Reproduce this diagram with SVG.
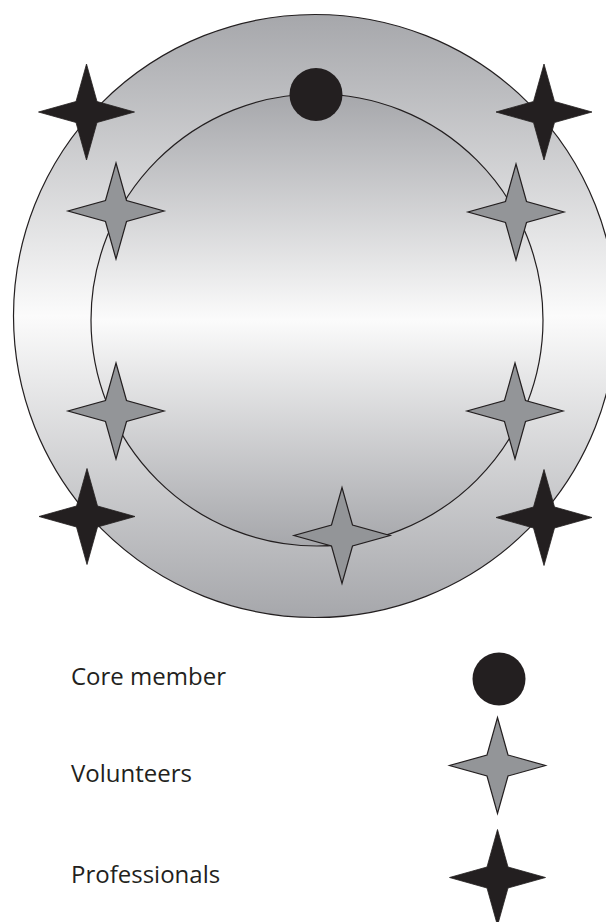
<svg xmlns="http://www.w3.org/2000/svg" xmlns:xlink="http://www.w3.org/1999/xlink" width="606" height="922" viewBox="0 0 606 922">
  <style>
    .ring { stroke: #231f20; stroke-width: 1.2; }
    .core { fill: #231f20; }
    .vol { fill: #939598; stroke: #231f20; stroke-width: 1.2; stroke-linejoin: miter; }
    .pro { fill: #231f20; stroke: #231f20; stroke-width: 0.8; }
    .label { font-family: "Open Sans", "Noto Sans", "Liberation Sans", sans-serif; font-size: 24px; fill: #231f20; }
  </style>
  <defs>
    <linearGradient id="grad" x1="0" y1="0" x2="0" y2="1">
      <stop offset="0" stop-color="#a6a7ab"/>
      <stop offset="0.5" stop-color="#fbfbfb"/>
      <stop offset="1" stop-color="#a6a7ab"/>
    </linearGradient>
    <path id="star" d="M0,-48 L10.5,-10.5 L48,0 L10.5,10.5 L0,48 L-10.5,10.5 L-48,0 L-10.5,-10.5 Z"/>
  </defs>
  <rect width="606" height="922" fill="#ffffff"/>

  <g id="outer-circle">
    <circle class="ring" cx="315" cy="316" r="301.5" fill="url(#grad)"/>
  </g>
  <g id="inner-circle">
    <circle class="ring" cx="317" cy="320" r="226" fill="url(#grad)"/>
  </g>

  <g id="core-member">
    <circle class="core" cx="316" cy="94.5" r="26.5"/>
  </g>

  <g id="volunteer-top-left"><use xlink:href="#star" class="vol" x="116" y="211"/></g>
  <g id="volunteer-top-right"><use xlink:href="#star" class="vol" x="516" y="212"/></g>
  <g id="volunteer-mid-left"><use xlink:href="#star" class="vol" x="116" y="411"/></g>
  <g id="volunteer-mid-right"><use xlink:href="#star" class="vol" x="515" y="411"/></g>
  <g id="volunteer-bottom"><use xlink:href="#star" class="vol" x="342" y="535.5"/></g>

  <g id="professional-top-left"><use xlink:href="#star" class="pro" x="86.5" y="112"/></g>
  <g id="professional-top-right"><use xlink:href="#star" class="pro" x="544" y="112"/></g>
  <g id="professional-bottom-left"><use xlink:href="#star" class="pro" x="87" y="516.5"/></g>
  <g id="professional-bottom-right"><use xlink:href="#star" class="pro" x="544" y="517.5"/></g>

  <g id="legend-core">
    <text class="label" x="71" y="685">Core member</text>
    <circle class="core" cx="499" cy="679" r="26.5"/>
  </g>
  <g id="legend-volunteers">
    <text class="label" x="71" y="782">Volunteers</text>
    <use xlink:href="#star" class="vol" x="497.5" y="765.5"/>
  </g>
  <g id="legend-professionals">
    <text class="label" x="71" y="883">Professionals</text>
    <use xlink:href="#star" class="pro" x="497.5" y="877.5"/>
  </g>
</svg>
